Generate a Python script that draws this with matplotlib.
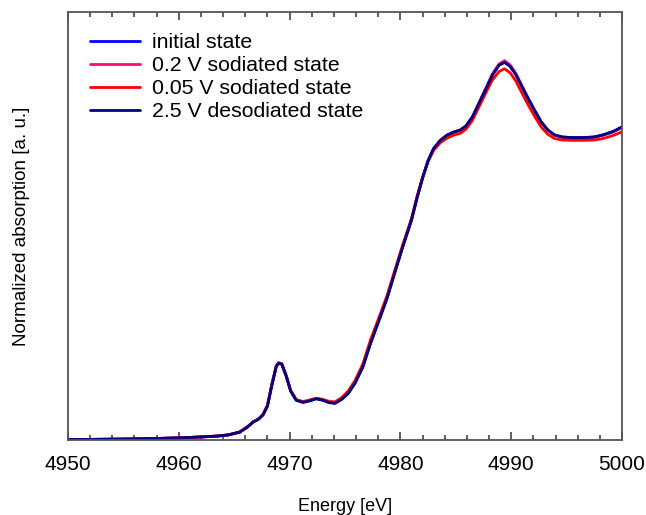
import matplotlib
matplotlib.use("Agg")
import matplotlib.pyplot as plt
from matplotlib.ticker import MultipleLocator

plt.rcParams['font.family'] = ['Liberation Sans', 'DejaVu Sans']

energy = [4950, 4952, 4955, 4958, 4960, 4962, 4963.5, 4964.5, 4965.5, 4966.2,
          4966.7, 4967.2, 4967.6, 4968.0, 4968.4, 4968.8, 4969.0, 4969.3, 4969.7, 4970.1,
          4970.6, 4971.2, 4971.8, 4972.4, 4973.0, 4973.6, 4974.1, 4974.7, 4975.3, 4975.9,
          4976.6, 4977.3, 4978.0, 4978.8, 4979.5, 4980.2, 4981.0, 4981.5, 4982.0, 4982.5,
          4983.0, 4983.6, 4984.2, 4984.8, 4985.4, 4985.9, 4986.5, 4987.1, 4987.7, 4988.3,
          4988.9, 4989.4, 4989.9, 4990.4, 4990.9, 4991.5, 4992.1, 4992.7, 4993.3, 4993.9,
          4994.6, 4995.5, 4996.5, 4997.5, 4998.3, 4999.2, 5000]

initial = [0.002, 0.002, 0.003, 0.005, 0.007, 0.010, 0.013, 0.017, 0.026, 0.043,
           0.059, 0.069, 0.083, 0.112, 0.182, 0.244, 0.254, 0.251, 0.211, 0.162,
           0.132, 0.125, 0.130, 0.137, 0.132, 0.124, 0.122, 0.135, 0.155, 0.188,
           0.241, 0.320, 0.389, 0.469, 0.554, 0.637, 0.726, 0.799, 0.865, 0.922,
           0.962, 0.989, 1.006, 1.016, 1.023, 1.036, 1.066, 1.112, 1.158, 1.205,
           1.238, 1.248, 1.234, 1.208, 1.172, 1.129, 1.089, 1.050, 1.023, 1.007,
           1.000, 0.998, 0.998, 1.000, 1.007, 1.018, 1.033]

sod_02 = [0.002, 0.002, 0.003, 0.005, 0.007, 0.010, 0.013, 0.017, 0.026, 0.043,
          0.059, 0.069, 0.083, 0.113, 0.183, 0.245, 0.255, 0.252, 0.212, 0.162,
          0.132, 0.125, 0.130, 0.137, 0.132, 0.124, 0.122, 0.135, 0.156, 0.190,
          0.243, 0.322, 0.391, 0.471, 0.556, 0.638, 0.727, 0.800, 0.865, 0.921,
          0.961, 0.988, 1.005, 1.015, 1.022, 1.035, 1.066, 1.113, 1.160, 1.208,
          1.241, 1.252, 1.238, 1.211, 1.174, 1.130, 1.089, 1.050, 1.023, 1.006,
          0.999, 0.997, 0.997, 0.999, 1.006, 1.017, 1.031]

sod_005 = [0.002, 0.002, 0.003, 0.005, 0.007, 0.010, 0.013, 0.017, 0.027, 0.044,
           0.060, 0.070, 0.085, 0.115, 0.184, 0.244, 0.254, 0.250, 0.210, 0.162,
           0.133, 0.127, 0.132, 0.138, 0.134, 0.127, 0.126, 0.140, 0.162, 0.196,
           0.250, 0.330, 0.398, 0.477, 0.561, 0.643, 0.731, 0.803, 0.866, 0.919,
           0.956, 0.981, 0.996, 1.006, 1.012, 1.025, 1.055, 1.100, 1.145, 1.188,
           1.216, 1.225, 1.212, 1.186, 1.150, 1.108, 1.069, 1.033, 1.009, 0.995,
           0.990, 0.989, 0.989, 0.990, 0.995, 1.005, 1.017]

desod_25 = [0.002, 0.002, 0.003, 0.005, 0.007, 0.010, 0.013, 0.017, 0.026, 0.043,
            0.059, 0.069, 0.083, 0.112, 0.181, 0.243, 0.253, 0.250, 0.210, 0.161,
            0.131, 0.124, 0.129, 0.136, 0.131, 0.123, 0.121, 0.134, 0.154, 0.187,
            0.240, 0.318, 0.388, 0.468, 0.553, 0.636, 0.726, 0.799, 0.865, 0.922,
            0.962, 0.989, 1.006, 1.016, 1.023, 1.036, 1.066, 1.112, 1.157, 1.204,
            1.237, 1.246, 1.233, 1.207, 1.171, 1.128, 1.088, 1.050, 1.023, 1.007,
            1.000, 0.998, 0.998, 1.000, 1.007, 1.018, 1.033]

labels = ['initial state', '0.2 V sodiated state', '0.05 V sodiated state', '2.5 V desodiated state']
colors = ['#0000ff', '#ff0a78', '#ff0000', '#00007f']
series = [initial, sod_02, sod_005, desod_25]

fig = plt.figure(figsize=(6.46, 5.15), dpi=100)
ax = fig.add_axes([68/646, 1 - 440/515, (622-68)/646, (440-12)/515])

for vals, col, lab in zip(series, colors, labels):
    ax.plot(energy, vals, color=col, lw=2.0, label=lab,
            solid_joinstyle='round', solid_capstyle='round')

ax.set_xlim(4950, 5000)
ax.set_ylim(0.0, 1.4125)
ax.xaxis.set_major_locator(MultipleLocator(10))
ax.xaxis.set_minor_locator(MultipleLocator(2))
ax.tick_params(axis='x', which='both', direction='in', top=True, bottom=True,
               colors='#333333', labelcolor='black', labelsize=15, pad=11)
ax.tick_params(axis='x', which='major', length=6, width=1.1)
ax.tick_params(axis='x', which='minor', length=3.5, width=1.1)
ax.set_yticks([])
for sp in ax.spines.values():
    sp.set_color('#555555')
    sp.set_linewidth(1.3)

ax.set_xlabel('Energy [eV]', fontsize=13, labelpad=17)
ax.set_ylabel('Normalized absorption [a. u.]', fontsize=13.5, labelpad=27)

leg = ax.legend(loc='upper left', bbox_to_anchor=(0.04, 0.951), frameon=False,
                fontsize=15.3, handlelength=2.35, handletextpad=0.56, labelspacing=0.19,
                borderpad=0, borderaxespad=0)

fig.savefig('out.png', dpi=100)
